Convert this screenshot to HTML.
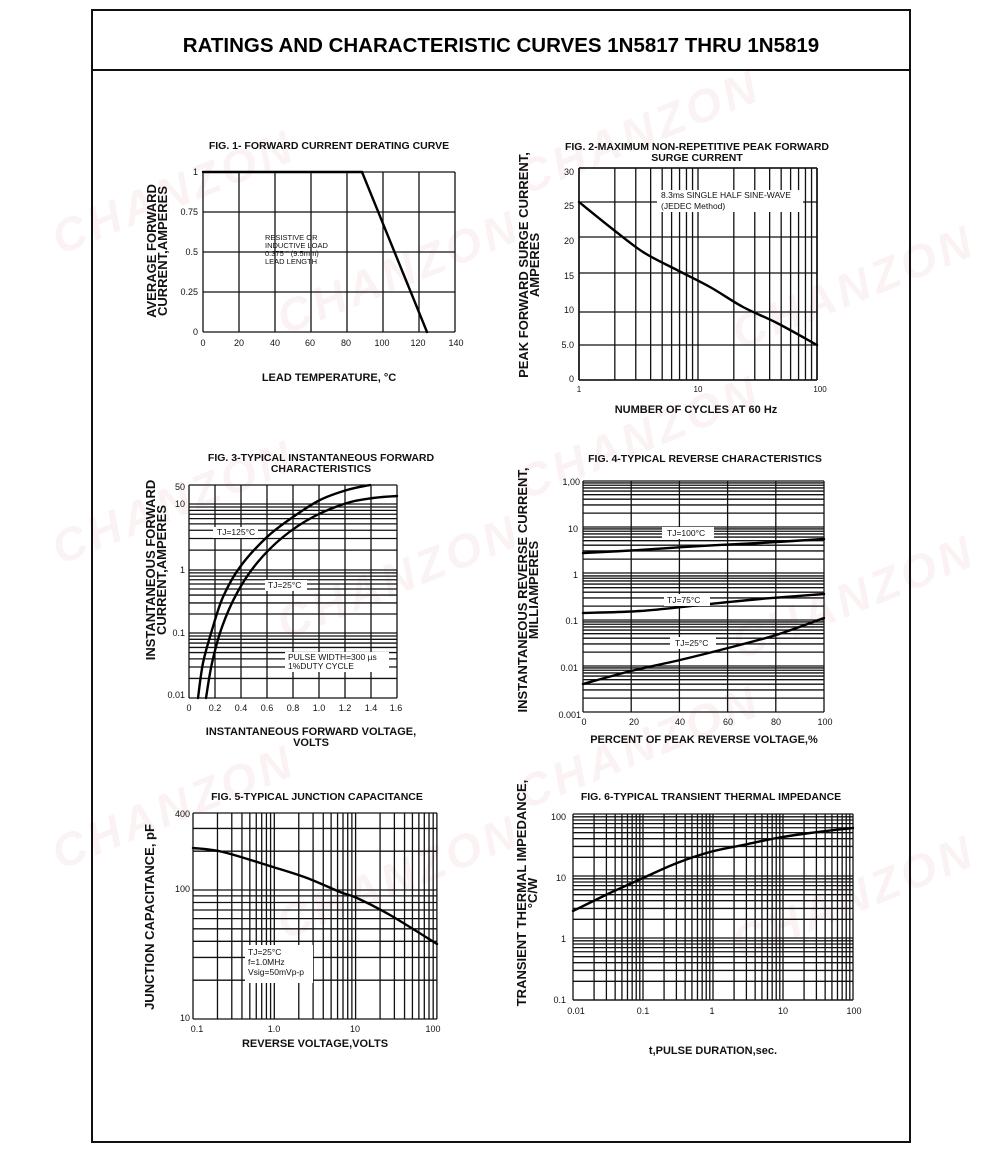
<!DOCTYPE html>
<html><head><meta charset="utf-8"><style>
html,body{margin:0;padding:0;background:#fff;}
svg{display:block;font-family:"Liberation Sans",Arial,sans-serif;}
.t{font-weight:bold;font-size:10.5px;text-anchor:middle;}
.ax{font-weight:bold;font-size:13px;text-anchor:middle;}
.xl{font-weight:bold;font-size:11px;text-anchor:middle;}
.tk{font-size:9px;}
.r{text-anchor:end;}
.m{text-anchor:middle;}
.an{font-size:8.5px;}
.wm{font-size:46px;font-weight:bold;font-style:italic;fill:#f4dede;opacity:.35;letter-spacing:4px;}
</style></head><body>
<svg id="s" width="1000" height="1154" viewBox="0 0 1000 1154">
<g id="wm">
<text class="wm" transform="translate(60,255) rotate(-22)">CHANZON</text>
<text class="wm" transform="translate(285,335) rotate(-22)">CHANZON</text>
<text class="wm" transform="translate(525,195) rotate(-22)">CHANZON</text>
<text class="wm" transform="translate(740,350) rotate(-22)">CHANZON</text>
<text class="wm" transform="translate(60,565) rotate(-22)">CHANZON</text>
<text class="wm" transform="translate(285,640) rotate(-22)">CHANZON</text>
<text class="wm" transform="translate(525,500) rotate(-22)">CHANZON</text>
<text class="wm" transform="translate(740,660) rotate(-22)">CHANZON</text>
<text class="wm" transform="translate(60,870) rotate(-22)">CHANZON</text>
<text class="wm" transform="translate(285,940) rotate(-22)">CHANZON</text>
<text class="wm" transform="translate(525,810) rotate(-22)">CHANZON</text>
<text class="wm" transform="translate(740,960) rotate(-22)">CHANZON</text>
</g>
<rect x="92" y="10" width="818" height="1132" fill="none" stroke="#111" stroke-width="2"/>
<line x1="92" y1="70" x2="910" y2="70" stroke="#111" stroke-width="2"/>
<text x="501" y="52" text-anchor="middle" font-weight="bold" font-size="20.5px">RATINGS AND CHARACTERISTIC CURVES 1N5817 THRU 1N5819</text>
<g id="grid" stroke="#111" stroke-width="1.3" fill="none"></g>
<g id="curves" stroke="#000" stroke-width="2.4" fill="none" stroke-linecap="round"></g>
<g id="boxes" fill="#fff"></g>
<g fill="#111">
<text class="t" x="329" y="149">FIG. 1- FORWARD CURRENT DERATING CURVE</text>
<text class="ax" transform="translate(156,251) rotate(-90)">AVERAGE FORWARD</text>
<text class="ax" transform="translate(167,251) rotate(-90)">CURRENT,AMPERES</text>
<text class="tk r" x="198" y="175">1</text><text class="tk r" x="198" y="215">0.75</text>
<text class="tk r" x="198" y="255">0.5</text><text class="tk r" x="198" y="295">0.25</text>
<text class="tk r" x="198" y="335">0</text>
<text class="tk m" x="203" y="346">0</text><text class="tk m" x="239" y="346">20</text><text class="tk m" x="275" y="346">40</text><text class="tk m" x="310" y="346">60</text><text class="tk m" x="346" y="346">80</text><text class="tk m" x="382" y="346">100</text><text class="tk m" x="418" y="346">120</text><text class="tk m" x="456" y="346">140</text>
<text class="xl" x="329" y="381">LEAD TEMPERATURE, °C</text>
<text class="t" x="697" y="150">FIG. 2-MAXIMUM NON-REPETITIVE PEAK FORWARD</text>
<text class="t" x="697" y="161">SURGE CURRENT</text>
<text class="ax" transform="translate(528,265) rotate(-90)">PEAK  FORWARD SURGE CURRENT,</text>
<text class="ax" transform="translate(539,265) rotate(-90)">AMPERES</text>
<text class="tk r" x="574" y="175">30</text><text class="tk r" x="574" y="209">25</text><text class="tk r" x="574" y="244">20</text><text class="tk r" x="574" y="279">15</text><text class="tk r" x="574" y="313">10</text><text class="tk r" x="574" y="348">5.0</text><text class="tk r" x="574" y="382">0</text>
<text class="tk m" x="579" y="392" style="font-size:8px">1</text><text class="tk m" x="698" y="392" style="font-size:8px">10</text><text class="tk m" x="820" y="392" style="font-size:8px">100</text>
<text class="xl" x="696" y="413">NUMBER OF CYCLES AT 60 Hz</text>
<text class="t" x="321" y="461">FIG. 3-TYPICAL INSTANTANEOUS FORWARD</text>
<text class="t" x="321" y="472">CHARACTERISTICS</text>
<text class="ax" transform="translate(155,570) rotate(-90)">INSTANTANEOUS FORWARD</text>
<text class="ax" transform="translate(166,570) rotate(-90)">CURRENT,AMPERES</text>
<text class="tk r" x="185" y="490">50</text><text class="tk r" x="185" y="507">10</text><text class="tk r" x="185" y="573">1</text><text class="tk r" x="185" y="636">0.1</text><text class="tk r" x="185" y="698">0.01</text>
<text class="tk m" x="189" y="711">0</text><text class="tk m" x="215" y="711">0.2</text><text class="tk m" x="241" y="711">0.4</text><text class="tk m" x="267" y="711">0.6</text><text class="tk m" x="293" y="711">0.8</text><text class="tk m" x="319" y="711">1.0</text><text class="tk m" x="345" y="711">1.2</text><text class="tk m" x="371" y="711">1.4</text><text class="tk m" x="396" y="711">1.6</text>
<text class="xl" x="311" y="735">INSTANTANEOUS FORWARD VOLTAGE,</text>
<text class="xl" x="311" y="746">VOLTS</text>
<text class="t" x="705" y="462">FIG. 4-TYPICAL REVERSE CHARACTERISTICS</text>
<text class="ax" transform="translate(527,590) rotate(-90)">INSTANTANEOUS REVERSE CURRENT,</text>
<text class="ax" transform="translate(538,590) rotate(-90)">MILLIAMPERES</text>
<text class="tk r" x="580" y="485">1,00</text><text class="tk r" x="578" y="532">10</text><text class="tk r" x="578" y="578">1</text><text class="tk r" x="578" y="624">0.1</text><text class="tk r" x="578" y="671">0.01</text><text class="tk r" x="581" y="718">0.001</text>
<text class="tk m" x="584" y="725">0</text><text class="tk m" x="634" y="725">20</text><text class="tk m" x="680" y="725">40</text><text class="tk m" x="728" y="725">60</text><text class="tk m" x="776" y="725">80</text><text class="tk m" x="825" y="725">100</text>
<text class="xl" x="704" y="743">PERCENT OF PEAK REVERSE VOLTAGE,%</text>
<text class="t" x="317" y="800">FIG. 5-TYPICAL JUNCTION CAPACITANCE</text>
<text class="ax" transform="translate(154,917) rotate(-90)">JUNCTION CAPACITANCE, pF</text>
<text class="tk r" x="190" y="817">400</text><text class="tk r" x="190" y="892">100</text><text class="tk r" x="190" y="1021">10</text>
<text class="tk m" x="197" y="1032">0.1</text><text class="tk m" x="274" y="1032">1.0</text><text class="tk m" x="355" y="1032">10</text><text class="tk m" x="433" y="1032">100</text>
<text class="xl" x="315" y="1047">REVERSE VOLTAGE,VOLTS</text>
<text class="t" x="711" y="800">FIG. 6-TYPICAL TRANSIENT THERMAL IMPEDANCE</text>
<text class="ax" transform="translate(526,893) rotate(-90)">TRANSIENT THERMAL IMPEDANCE,</text>
<text class="ax" transform="translate(537,893) rotate(-90)">°C/W</text>
<text class="tk r" x="566" y="820">100</text><text class="tk r" x="566" y="881">10</text><text class="tk r" x="566" y="942">1</text><text class="tk r" x="566" y="1003">0.1</text>
<text class="tk m" x="576" y="1014">0.01</text><text class="tk m" x="643" y="1014">0.1</text><text class="tk m" x="712" y="1014">1</text><text class="tk m" x="783" y="1014">10</text><text class="tk m" x="854" y="1014">100</text>
<text class="xl" x="713" y="1054">t,PULSE DURATION,sec.</text>
</g>
<g id="labels" fill="#111">
<text class="an" x="265" y="240" style="font-size:7.5px">RESISTIVE OR</text>
<text class="an" x="265" y="248" style="font-size:7.5px">INDUCTIVE LOAD</text>
<text class="an" x="265" y="256" style="font-size:7.5px">0.375 ''   (9.5mm)</text>
<text class="an" x="265" y="264" style="font-size:7.5px">LEAD LENGTH</text>
<text class="an" x="661" y="198">8.3ms SINGLE HALF SINE-WAVE</text>
<text class="an" x="661" y="209">(JEDEC Method)</text>
<text class="an" x="217" y="535">TJ=125°C</text>
<text class="an" x="268" y="588">TJ=25°C</text>
<text class="an" x="288" y="660">PULSE WIDTH=300 µs</text>
<text class="an" x="288" y="669">1%DUTY CYCLE</text>
<text class="an" x="667" y="536">TJ=100°C</text>
<text class="an" x="667" y="603">TJ=75°C</text>
<text class="an" x="675" y="646">TJ=25°C</text>
<text class="an" x="248" y="955">TJ=25°C</text>
<text class="an" x="248" y="965">f=1.0MHz</text>
<text class="an" x="248" y="975">Vsig=50mVp-p</text>
</g>
</svg>
<script>
var NS="http://www.w3.org/2000/svg",G=document.getElementById("grid"),C=document.getElementById("curves"),B=document.getElementById("boxes");
function L(x1,y1,x2,y2,w){var e=document.createElementNS(NS,"line");e.setAttribute("x1",x1);e.setAttribute("y1",y1);e.setAttribute("x2",x2);e.setAttribute("y2",y2);if(w)e.setAttribute("stroke-width",w);G.appendChild(e);}
function R(x,y,w,h){var e=document.createElementNS(NS,"rect");e.setAttribute("x",x);e.setAttribute("y",y);e.setAttribute("width",w);e.setAttribute("height",h);B.appendChild(e);}
function box(x0,y0,x1,y1){L(x0,y0,x1,y0,1.6);L(x0,y1,x1,y1,1.6);L(x0,y0,x0,y1,1.6);L(x1,y0,x1,y1,1.6);}
function logX(x0,dec,n,y0,y1){for(var d=0;d<n;d++)for(var k=1;k<=10;k++){if(k==10&&d<n-1)continue;L(x0+dec*(d+Math.log10(k)),y0,x0+dec*(d+Math.log10(k)),y1);}}
function logYdec(yb,dec,x0,x1,kmax){kmax=kmax||9;for(var k=2;k<=kmax;k++){var y=yb-dec*Math.log10(k);L(x0,y,x1,y);}}
function curve(p){var d="M"+p[0][0]+","+p[0][1];for(var i=0;i<p.length-1;i++){var a=p[i-1]||p[i],b=p[i],c=p[i+1],e=p[i+2]||c;d+=" C"+(b[0]+(c[0]-a[0])/6)+","+(b[1]+(c[1]-a[1])/6)+" "+(c[0]-(e[0]-b[0])/6)+","+(c[1]-(e[1]-b[1])/6)+" "+c[0]+","+c[1];}var el=document.createElementNS(NS,"path");el.setAttribute("d",d);C.appendChild(el);}
for(var i=0;i<=7;i++)L(203+i*36,172,203+i*36,332);
for(var j=0;j<=4;j++)L(203,172+j*40,455,172+j*40);
curve([[203,172],[362,172]]);curve([[362,172],[427,332]]);
[168,202,237,273,312,345,380].forEach(function(y){L(579,y,817,y);});
logX(579,119,2,168,380);box(579,168,817,380);
R(657,190,146,22);
curve([[579,202],[610,227],[643,252],[677,270],[710,287],[743,307],[777,323],[817,345]]);
for(var i=0;i<=8;i++)L(189+i*26,485,189+i*26,698);
L(189,485,397,485);[504,570,633,698].forEach(function(y){L(189,y,397,y);});
logYdec(570,66,189,397);logYdec(633,63,189,397);logYdec(698,65,189,397);
R(213,527,45,11);R(265,580,42,11);R(285,652,104,20);
curve([[198,698],[203,663],[212,630],[223,597],[240,567],[267,537],[293,517],[320,500],[347,490],[370,485]]);
curve([[206,698],[212,663],[222,627],[237,593],[257,563],[283,537],[313,517],[347,503],[373,498],[397,496]]);
for(var i=0;i<=5;i++)L(583+i*48.2,481,583+i*48.2,712);
[481,527,573,620,666,712].forEach(function(y){L(583,y,824,y);});
[527,573,620,666,712].forEach(function(y){logYdec(y,46.2,583,824);});
R(662,527,52,12);R(664,594,46,12);R(670,637,46,12);
curve([[583,553],[640,550],[700,546],[760,543],[824,539]]);
curve([[583,613],[640,611],[700,605],[760,599],[824,594]]);
curve([[583,684],[631,671],[680,660],[728,648],[776,635],[824,618]]);
logX(193,81.3,3,813,1019);
L(193,813,437,813);L(193,1019,437,1019);L(193,890,437,890);
logYdec(1019,129,193,437);logYdec(890,129,193,437,3);
R(245,945,68,38);
curve([[193,848],[223,852],[273,867],[307,878],[340,892],[357,898],[390,915],[437,944]]);
logX(573,70,4,814,1000);
L(573,1000,853,1000);
[1000,938,876,814].forEach(function(y,i){L(573,y,853,y);if(i<3)logYdec(y,62,573,853);});
curve([[573,911],[610,893],[643,878],[677,863],[710,852],[743,845],[777,838],[810,833],[853,828]]);
</script>
</body></html>
